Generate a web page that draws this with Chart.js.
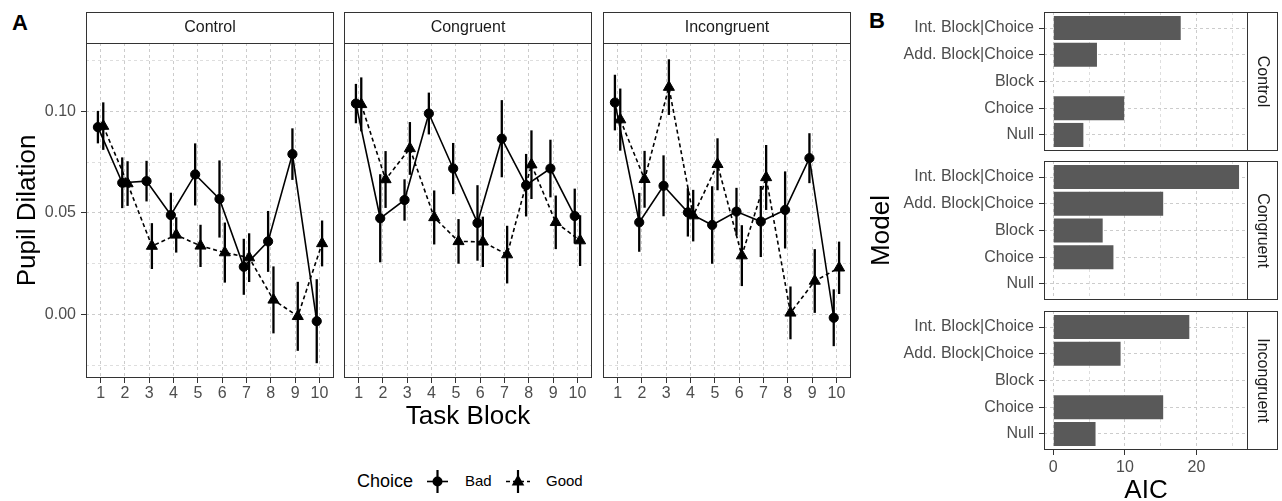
<!DOCTYPE html>
<html>
<head>
<meta charset="utf-8">
<script src="https://cdn.jsdelivr.net/npm/chart.js@4.4.1/dist/chart.umd.min.js"></script>
<style>
  body { margin: 0; width: 1282px; height: 501px; overflow: hidden; background: #fff; position: relative;
         font-family: "Liberation Sans", Arial, sans-serif; }
  canvas { position: absolute; }
  .tag { position: absolute; font-weight: bold; font-size: 22px; color: #000; }
  .leg { position: absolute; color: #000; white-space: nowrap; }
</style>
</head>
<body>
<div class="tag" style="left:12px; top:10px;">A</div>
<div class="tag" style="left:869px; top:8px;">B</div>

<canvas id="aControl"></canvas>
<canvas id="aCongruent"></canvas>
<canvas id="aIncongruent"></canvas>
<canvas id="bControl"></canvas>
<canvas id="bCongruent"></canvas>
<canvas id="bIncongruent"></canvas>

<div class="leg" style="left:357px; top:469px; font-size:18px; line-height:24px;">Choice</div>
<svg class="leg" style="left:424px; top:468px;" width="28" height="27">
  <line x1="3" y1="13.5" x2="24" y2="13.5" stroke="#000" stroke-width="1.6"/>
  <line x1="13.5" y1="2" x2="13.5" y2="25" stroke="#000" stroke-width="2.2"/>
  <circle cx="13.5" cy="13.5" r="5" fill="#000"/>
</svg>
<div class="leg" style="left:465px; top:471px; font-size:15px; line-height:20px;">Bad</div>
<svg class="leg" style="left:504px; top:468px;" width="28" height="27">
  <line x1="2" y1="13.5" x2="26" y2="13.5" stroke="#000" stroke-width="1.6" stroke-dasharray="4,3"/>
  <line x1="14" y1="2" x2="14" y2="25" stroke="#000" stroke-width="2.2"/>
  <polygon points="14,6.5 20.3,17.5 7.7,17.5" fill="#000"/>
</svg>
<div class="leg" style="left:546px; top:471px; font-size:15px; line-height:20px;">Good</div>

<script>
// Panel A: pupil dilation by task block, mean and standard error
var blocks = [1, 2, 3, 4, 5, 6, 7, 8, 9, 10];

var controlBadMean = [0.0923, 0.0649, 0.0657, 0.0490, 0.0690, 0.0569, 0.0235, 0.0360, 0.0790, -0.0033];
var controlBadSe = [0.0080, 0.0125, 0.0100, 0.0110, 0.0153, 0.0190, 0.0138, 0.0150, 0.0127, 0.0207];
var controlGoodMean = [0.0928, 0.0645, 0.0337, 0.0392, 0.0338, 0.0305, 0.0280, 0.0072, -0.0009, 0.0350];
var controlGoodSe = [0.0117, 0.0110, 0.0113, 0.0087, 0.0104, 0.0148, 0.0120, 0.0165, 0.0170, 0.0113];

var congruentBadMean = [0.1039, 0.0474, 0.0564, 0.0990, 0.0719, 0.0451, 0.0866, 0.0637, 0.0719, 0.0485];
var congruentBadSe = [0.0097, 0.0217, 0.0102, 0.0103, 0.0126, 0.0186, 0.0190, 0.0154, 0.0142, 0.0135];
var congruentGoodMean = [0.1035, 0.0665, 0.0818, 0.0478, 0.0360, 0.0358, 0.0295, 0.0738, 0.0454, 0.0364];
var congruentGoodSe = [0.0133, 0.0140, 0.0130, 0.0133, 0.0110, 0.0124, 0.0142, 0.0169, 0.0132, 0.0125];

var incongruentBadMean = [0.1044, 0.0454, 0.0634, 0.0503, 0.0441, 0.0507, 0.0458, 0.0515, 0.0770, -0.0016];
var incongruentBadSe = [0.0137, 0.0145, 0.0150, 0.0119, 0.0191, 0.0117, 0.0175, 0.0190, 0.0123, 0.0140];
var incongruentGoodMean = [0.0960, 0.0666, 0.1120, 0.0487, 0.0740, 0.0290, 0.0675, 0.0008, 0.0165, 0.0230];
var incongruentGoodSe = [0.0153, 0.0140, 0.0137, 0.0127, 0.0128, 0.0150, 0.0160, 0.0130, 0.0157, 0.0129];

var dilationTicks = [-0.025, 0, 0.025, 0.05, 0.075, 0.1, 0.125];

// Panel B: AIC per model (bottom to top)
var models = ['Null', 'Choice', 'Block', 'Add. Block|Choice', 'Int. Block|Choice'];
var controlAic = [4.2, 9.9, 0, 6.1, 17.8];
var congruentAic = [0, 8.4, 6.9, 15.35, 25.95];
var incongruentAic = [5.9, 15.35, 0, 9.4, 19.0];
var aicTicks = [0, 5, 10, 15, 20, 25];

Chart.defaults.font.family = '"Liberation Sans", Arial, sans-serif';
Chart.defaults.animation = false;

var GRID = '#cccccc';
var GRID_MINOR = '#dedede';
var TICK = '#333333';
var LABEL = '#4d4d4d';
var DODGE = 0.11;

// panel border and facet strip
var framePlugin = {
    id: 'frame',
    afterDraw: function (chart, args, opts) {
        var a = chart.chartArea;
        var ctx = chart.ctx;
        var l = Math.round(a.left) + 0.5, t = Math.round(a.top) + 0.5;
        var r = Math.round(a.right) - 0.5, b = Math.round(a.bottom) - 0.5;
        ctx.save();
        ctx.strokeStyle = '#333333';
        ctx.lineWidth = 1;
        ctx.strokeRect(l, t, r - l, b - t);
        ctx.fillStyle = '#1a1a1a';
        ctx.font = '16px "Liberation Sans", Arial, sans-serif';
        ctx.textAlign = 'center';
        ctx.textBaseline = 'middle';
        if (opts.top) {
            ctx.strokeRect(l, t - 31, r - l, 31);
            ctx.fillText(opts.top, (l + r) / 2, t - 15.5);
        }
        if (opts.right) {
            ctx.strokeRect(r, t, 30, b - t);
            ctx.translate(r + 15, (t + b) / 2);
            ctx.rotate(Math.PI / 2);
            ctx.fillText(opts.right, 0, 0);
        }
        ctx.restore();
    }
};

// vertical error bars (mean +/- se) drawn under the points
var errorBarPlugin = {
    id: 'errorBars',
    beforeDatasetsDraw: function (chart) {
        var ctx = chart.ctx;
        var ys = chart.scales.y;
        ctx.save();
        ctx.strokeStyle = '#000';
        ctx.lineWidth = 2.3;
        chart.data.datasets.forEach(function (ds, di) {
            var meta = chart.getDatasetMeta(di);
            meta.data.forEach(function (pt, i) {
                var d = ds.data[i];
                ctx.beginPath();
                ctx.moveTo(pt.x, ys.getPixelForValue(d.y + d.se));
                ctx.lineTo(pt.x, ys.getPixelForValue(d.y - d.se));
                ctx.stroke();
            });
        });
        ctx.restore();
    }
};

function isMajorDilation(v) {
    return Math.abs(v * 20 - Math.round(v * 20)) < 1e-6;
}

function points(mean, se, shift) {
    return blocks.map(function (b, i) {
        return { x: b + shift, y: mean[i], se: se[i] };
    });
}

function place(id, left, top, w, h) {
    var c = document.getElementById(id);
    c.width = w;
    c.height = h;
    c.style.left = left + 'px';
    c.style.top = top + 'px';
    return c;
}

function makeTrend(id, name, plotLeft, badMean, badSe, goodMean, goodSe, first, middle) {
    var plotTop = 43, plotW = 248, plotH = 335, padTop = 32, xH = 60, padRight = 2;
    var yW = first ? 76 : 0;
    var c = place(id, plotLeft - yW, plotTop - padTop, yW + plotW + padRight, padTop + plotH + xH);
    return new Chart(c, {
        type: 'line',
        data: {
            datasets: [{
                label: 'Bad',
                data: points(badMean, badSe, -DODGE),
                borderColor: '#000',
                backgroundColor: '#000',
                borderWidth: 1.6,
                pointStyle: 'circle',
                pointRadius: 4.6,
                pointBorderWidth: 1
            }, {
                label: 'Good',
                data: points(goodMean, goodSe, DODGE),
                borderColor: '#000',
                backgroundColor: '#000',
                borderWidth: 1.6,
                borderDash: [4, 3],
                pointStyle: 'triangle',
                pointRadius: 6.4,
                pointBorderWidth: 1
            }]
        },
        options: {
            responsive: false,
            layout: { autoPadding: false, padding: { top: padTop, right: padRight, left: 0, bottom: 0 } },
            plugins: {
                legend: { display: false },
                tooltip: { enabled: false },
                frame: { top: name }
            },
            scales: {
                x: {
                    type: 'linear',
                    min: 0.4,
                    max: 10.6,
                    offset: false,
                    afterBuildTicks: function (s) { s.ticks = blocks.map(function (v) { return { value: v }; }); },
                    afterFit: function (s) { s.height = xH; },
                    border: { display: false, dash: [3, 3] },
                    grid: { offset: false, color: GRID, tickLength: 5, tickColor: TICK, tickWidth: 1 },
                    ticks: { color: LABEL, font: { size: 16 }, padding: 1, maxRotation: 0, autoSkip: false },
                    title: {
                        display: middle,
                        text: 'Task Block',
                        color: '#000',
                        font: { size: 26, lineHeight: 1 },
                        padding: { top: 0, bottom: 8 }
                    }
                },
                y: {
                    type: 'linear',
                    min: -0.03128,
                    max: 0.13374,
                    afterBuildTicks: function (s) { s.ticks = dilationTicks.map(function (v) { return { value: v }; }); },
                    afterFit: function (s) { s.width = yW; },
                    border: { display: false, dash: [3, 3] },
                    grid: {
                        color: function (ctx) { return isMajorDilation(ctx.tick.value) ? GRID : GRID_MINOR; },
                        drawTicks: first,
                        tickLength: 5,
                        tickWidth: 1,
                        tickColor: function (ctx) { return isMajorDilation(ctx.tick.value) ? TICK : 'rgba(0,0,0,0)'; }
                    },
                    ticks: {
                        display: first,
                        color: LABEL,
                        font: { size: 16 },
                        padding: 5,
                        callback: function (v) { return isMajorDilation(v) ? v.toFixed(2) : ''; }
                    },
                    title: {
                        display: first,
                        text: 'Pupil Dilation',
                        color: '#000',
                        font: { size: 26, lineHeight: 1 },
                        padding: { top: 5, bottom: 0 }
                    }
                }
            }
        },
        plugins: [errorBarPlugin, framePlugin]
    });
}

function makeAic(id, name, plotTop, aic, showModel, bottom) {
    var plotLeft = 1044, plotW = 204, plotH = 139, yW = 180, padTop = 16, padRight = 34;
    var xH = bottom ? 54 : 0;
    var padBottom = bottom ? 0 : 16;
    var c = place(id, plotLeft - yW, plotTop - padTop, yW + plotW + padRight, padTop + plotH + xH + padBottom);
    return new Chart(c, {
        type: 'bar',
        data: {
            datasets: [{
                label: name,
                data: aic.map(function (v, i) { return { x: v, y: i + 1 }; }),
                backgroundColor: '#595959',
                borderWidth: 0,
                barPercentage: 0.9,
                categoryPercentage: 1.0
            }]
        },
        options: {
            responsive: false,
            indexAxis: 'y',
            layout: { autoPadding: false, padding: { top: padTop, right: padRight, left: 0, bottom: padBottom } },
            plugins: {
                legend: { display: false },
                tooltip: { enabled: false },
                frame: { right: name }
            },
            scales: {
                x: {
                    type: 'linear',
                    min: -1.3,
                    max: 27.2,
                    offset: false,
                    afterBuildTicks: function (s) { s.ticks = aicTicks.map(function (v) { return { value: v }; }); },
                    afterFit: function (s) { s.height = xH; },
                    border: { display: false, dash: [3, 3] },
                    grid: {
                        offset: false,
                        color: function (ctx) { return ctx.tick.value % 10 === 0 ? GRID : GRID_MINOR; },
                        drawTicks: bottom,
                        tickLength: 5,
                        tickWidth: 1,
                        tickColor: function (ctx) { return ctx.tick.value % 10 === 0 ? TICK : 'rgba(0,0,0,0)'; }
                    },
                    ticks: {
                        display: bottom,
                        color: LABEL,
                        font: { size: 16 },
                        padding: 3,
                        maxRotation: 0,
                        autoSkip: false,
                        callback: function (v) { return v % 10 === 0 ? String(v) : ''; }
                    },
                    title: {
                        display: bottom,
                        text: 'AIC',
                        color: '#000',
                        font: { size: 26, lineHeight: 1 },
                        padding: { top: 0, bottom: 0 }
                    }
                },
                y: {
                    type: 'linear',
                    min: 0.4,
                    max: 5.6,
                    offset: false,
                    afterBuildTicks: function (s) { s.ticks = models.map(function (m, i) { return { value: i + 1 }; }); },
                    afterFit: function (s) { s.width = yW; },
                    border: { display: false, dash: [3, 3] },
                    grid: { offset: false, color: GRID, tickLength: 5, tickWidth: 1, tickColor: TICK },
                    ticks: {
                        color: LABEL,
                        font: { size: 16 },
                        padding: 5,
                        autoSkip: false,
                        callback: function (v) { return models[Math.round(v) - 1]; }
                    },
                    title: {
                        display: showModel,
                        text: 'Model',
                        color: '#000',
                        font: { size: 26, lineHeight: 1 },
                        padding: { top: 5, bottom: 0 }
                    }
                }
            }
        },
        plugins: [framePlugin]
    });
}

makeTrend('aControl', 'Control', 86, controlBadMean, controlBadSe, controlGoodMean, controlGoodSe, true, false);
makeTrend('aCongruent', 'Congruent', 344, congruentBadMean, congruentBadSe, congruentGoodMean, congruentGoodSe, false, true);
makeTrend('aIncongruent', 'Incongruent', 603, incongruentBadMean, incongruentBadSe, incongruentGoodMean, incongruentGoodSe, false, false);

makeAic('bControl', 'Control', 12, controlAic, false, false);
makeAic('bCongruent', 'Congruent', 161, congruentAic, true, false);
makeAic('bIncongruent', 'Incongruent', 311, incongruentAic, false, true);
</script>
</body>
</html>
